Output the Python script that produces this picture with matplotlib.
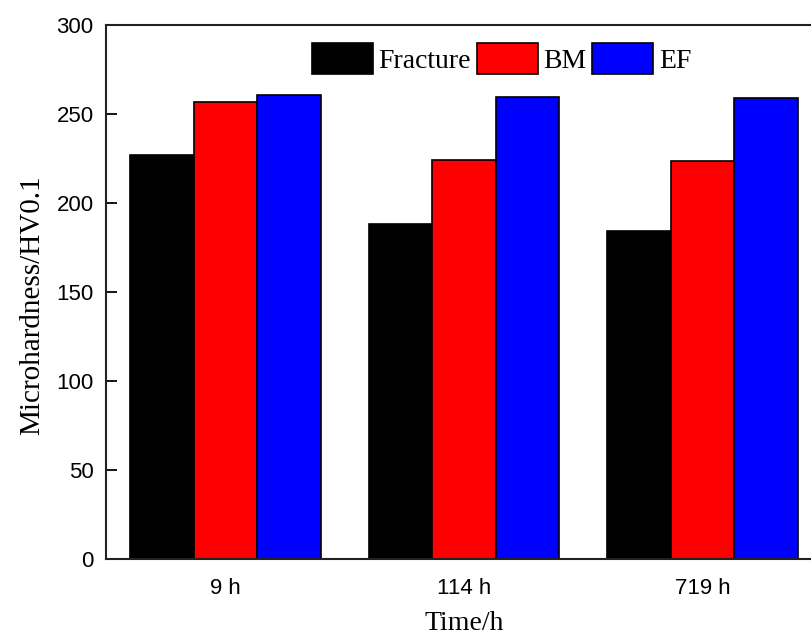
import numpy as np
import matplotlib
matplotlib.use("Agg")
import matplotlib.pyplot as plt

groups = ["9 h", "114 h", "719 h"]
fracture = [227, 188, 184]
bm = [256.5, 224, 223.5]
ef = [260.5, 259.5, 259]

fig = plt.figure(figsize=(8.11, 6.35), dpi=100)
ax = fig.add_axes([106 / 811, 1 - 559 / 635, 716 / 811, 534 / 635])

x = np.arange(len(groups))
w = 0.8 / 3
ax.bar(x - w, fracture, w, color="black", edgecolor="black", linewidth=1.2, label="Fracture")
ax.bar(x, bm, w, color="#ff0000", edgecolor="black", linewidth=1.2, label="BM")
ax.bar(x + w, ef, w, color="#0000ff", edgecolor="black", linewidth=1.2, label="EF")

ax.set_xlim(-0.5, 2.5)
ax.set_ylim(0, 300)
ax.set_yticks([0, 50, 100, 150, 200, 250, 300])
ax.set_xticks(x)
ax.set_xticklabels(groups, family="Liberation Sans", fontsize=16)
for lab in ax.get_yticklabels():
    lab.set_family("Liberation Sans")
    lab.set_fontsize(16)
ax.tick_params(axis="y", direction="in", length=8, width=1.3, pad=9)
ax.tick_params(axis="x", length=0, pad=14)

for s in ax.spines.values():
    s.set_linewidth(1.5)
    s.set_color("#222222")

ax.set_xlabel("Time/h", family="Liberation Serif", fontsize=20)
ax.xaxis.set_label_coords(0.5, -0.098)
ax.set_ylabel("Microhardness/HV0.1", family="Liberation Serif", fontsize=21)
ax.yaxis.set_label_coords(-0.085, 0.476)

ax.legend(loc="upper left", bbox_to_anchor=(312 / 811, 1 - 43 / 635),
          bbox_transform=fig.transFigure, ncol=3, frameon=False,
          prop={"family": "Liberation Serif", "size": 20},
          handlelength=2.2, handleheight=1.35, handletextpad=0.2,
          columnspacing=0.2, borderpad=0, borderaxespad=0)

fig.savefig("out.png", dpi=100)
